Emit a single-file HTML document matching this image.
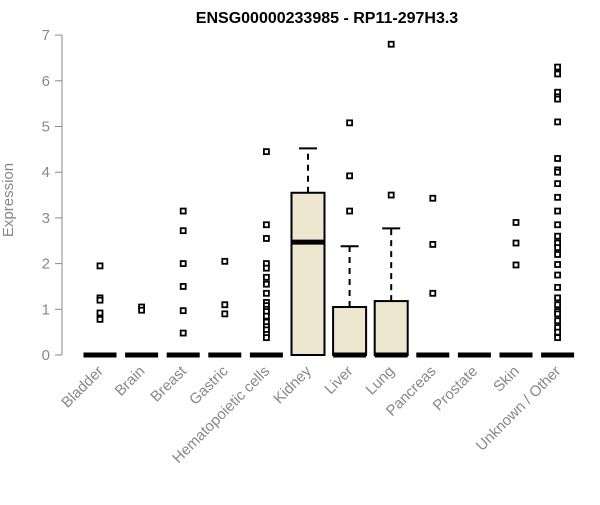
<!DOCTYPE html>
<html><head><meta charset="utf-8"><style>
body{margin:0;background:#fff;font-family:"Liberation Sans",sans-serif}
</style></head><body>
<svg id="c" width="600" height="500" xmlns="http://www.w3.org/2000/svg" font-family="Liberation Sans, sans-serif"></svg>
<script>
const categories=["Bladder","Brain","Breast","Gastric","Hematopoietic cells","Kidney","Liver","Lung","Pancreas","Prostate","Skin","Unknown / Other"];
const q1=[0,0,0,0,0,0,0,0,0,0,0,0];
const medians=[0,0,0,0,0,2.47,0,0,0,0,0,0];
const q3=[0,0,0,0,0,3.55,1.05,1.18,0,0,0,0];
const whiskerHigh=[0,0,0,0,0,4.52,2.38,2.77,0,0,0,0];
const outliers=[
[1.95,1.25,1.2,0.92,0.78],
[1.05,0.98],
[3.15,2.72,2.0,1.5,0.97,0.48],
[2.05,1.1,0.9],
[4.45,2.85,2.55,2.0,1.9,1.7,1.55,1.35,1.15,1.08,1.0,0.95,0.85,0.72,0.62,0.55,0.45,0.38],
[],
[5.08,3.92,3.15],
[6.8,3.5],
[3.43,2.42,1.35],
[],
[2.9,2.45,1.97],
[6.3,6.15,5.75,5.65,5.6,5.1,4.3,4.05,4.0,3.75,3.45,3.15,2.85,2.6,2.45,2.35,2.2,1.98,1.75,1.48,1.25,1.1,0.95,0.9,0.75,0.6,0.5,0.38]
];
const yTicks=[0,1,2,3,4,5,6,7];
const svg=document.getElementById('c');
const NS="http://www.w3.org/2000/svg";
const y=v=>355-v*45.7;
const x=i=>100+i*41.6;
function mk(t,a,p){const e=document.createElementNS(NS,t);for(const k in a)e.setAttribute(k,a[k]);(p||svg).appendChild(e);return e;}
const title=mk('text',{x:327,y:23,'text-anchor':'middle','font-size':16,'font-weight':'bold',fill:'#000'});
title.textContent="ENSG00000233985 - RP11-297H3.3";


const yt=mk('text',{transform:'translate(13,200) rotate(-90)','text-anchor':'middle','font-size':15,fill:'#888'});
yt.textContent="Expression";


const ax=mk('line',{x1:62,x2:62,y1:y(0),y2:y(7),stroke:'#888'});


yTicks.forEach(v=>{
 mk('line',{x1:55,x2:62,y1:y(v),y2:y(v),stroke:'#888'});
 const t=mk('text',{x:50,y:y(v)+5,'text-anchor':'end','font-size':15,fill:'#888'});
 t.textContent=v;
 
 
});
categories.forEach((c,i)=>{
 const cx=x(i),w=33;
 const g=mk('g',{});
 
 
 if(whiskerHigh[i]>q3[i]){
  mk('line',{x1:cx,x2:cx,y1:y(q3[i]),y2:y(whiskerHigh[i]),stroke:'#000','stroke-width':2,'stroke-dasharray':'6,5'},g);
  mk('line',{x1:cx-9,x2:cx+9,y1:y(whiskerHigh[i]),y2:y(whiskerHigh[i]),stroke:'#000','stroke-width':2},g);
 }
 if(q3[i]>q1[i]) mk('rect',{x:cx-w/2,y:y(q3[i]),width:w,height:y(q1[i])-y(q3[i]),fill:'#ede7cf',stroke:'#000','stroke-width':2},g);
 mk('line',{x1:cx-w/2,x2:cx+w/2,y1:y(medians[i]),y2:y(medians[i]),stroke:'#000','stroke-width':5},g);
 outliers[i].forEach(v=>{
  const p=mk('rect',{x:cx-2.5,y:y(v)-2.5,width:5,height:5,fill:'#fff',stroke:'#000','stroke-width':1.8},g);
  
  
 });
 const t=mk('text',{transform:`translate(${cx+4},372) rotate(-45)`,'text-anchor':'end','font-size':15,fill:'#888'});
 t.textContent=c;
 
 
});
</script>
</body></html>
